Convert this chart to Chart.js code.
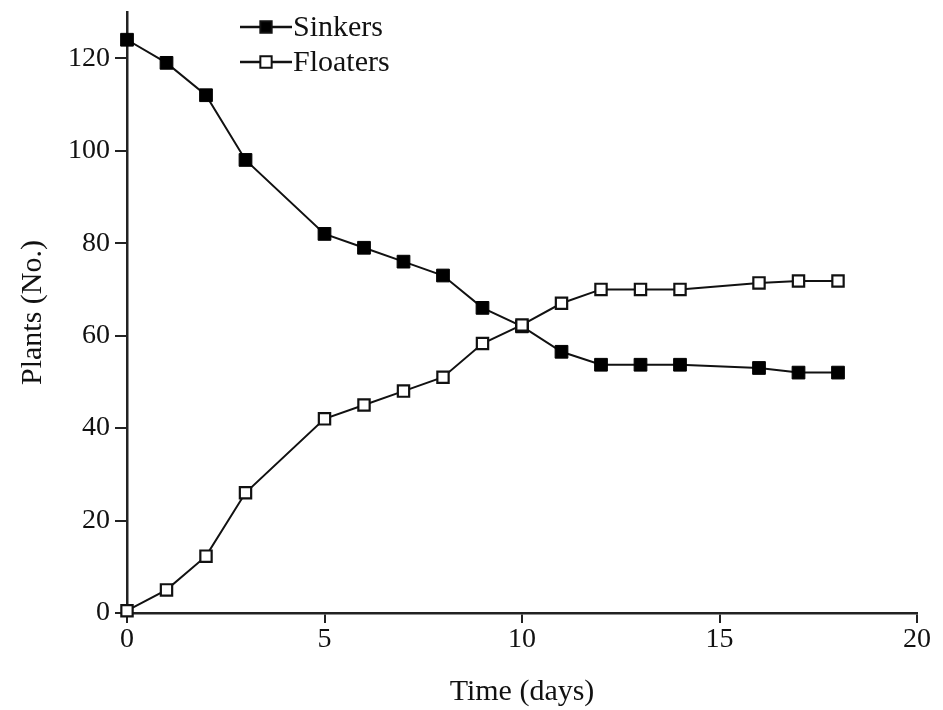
<!DOCTYPE html>
<html>
<head>
<meta charset="utf-8">
<script src="https://cdn.jsdelivr.net/npm/chart.js@4/dist/chart.umd.min.js"></script>
<style>
  html, body { margin: 0; padding: 0; background: #fff; }
  #wrap { width: 943px; height: 710px; }
</style>
</head>
<body>
<div id="wrap"><canvas id="chart"></canvas></div>
<script>
// Data
const days      = [0, 1, 2, 3, 5, 6, 7, 8, 9, 10, 11, 12, 13, 14, 16, 17, 18];
const sinkers   = [124, 119, 112, 98, 82, 79, 76, 73, 66, 62, 56.5, 53.7, 53.7, 53.7, 53, 52, 52];
const floaters  = [0.5, 5, 12.3, 26, 42, 45, 48, 51, 58.3, 62.3, 67, 70, 70, 70, 71.4, 71.8, 71.8];
const xTicks    = [0, 5, 10, 15, 20];
const yTicks    = [0, 20, 40, 60, 80, 100, 120];

const FONT = '"Liberation Serif", "DejaVu Serif", serif';

const toPoints = (xs, ys) => xs.map((x, i) => ({ x: x, y: ys[i] }));

// small custom legend drawn at the top, like the original figure
const legendPlugin = {
    id: 'topLegend',
    afterDraw(chart) {
        const ctx = chart.ctx;
        const rows = [
            { label: 'Sinkers', ds: chart.data.datasets[1], y: 27 },
            { label: 'Floaters', ds: chart.data.datasets[0], y: 62 }
        ];
        ctx.save();
        rows.forEach(r => {
            ctx.strokeStyle = '#111';
            ctx.lineWidth = 2.5;
            ctx.beginPath();
            ctx.moveTo(240, r.y);
            ctx.lineTo(292, r.y);
            ctx.stroke();
            ctx.lineWidth = 2;
            ctx.fillStyle = r.ds.pointBackgroundColor;
            ctx.beginPath();
            const s = 8 * Math.SQRT1_2;
            ctx.rect(266 - s, r.y - s, 2 * s, 2 * s);
            ctx.fill();
            ctx.stroke();
            ctx.fillStyle = '#111';
            ctx.font = '30px ' + FONT;
            ctx.textBaseline = 'middle';
            ctx.fillText(r.label, 293, r.y + 1);
        });
        ctx.restore();
    }
};

const chart = new Chart(document.getElementById('chart'), {
    type: 'line',
    data: {
        datasets: [
            {
                label: 'Floaters',
                data: toPoints(days, floaters),
                borderColor: '#111',
                borderWidth: 2,
                pointStyle: 'rect',
                pointRadius: 8,
                pointBorderWidth: 2.2,
                pointBackgroundColor: '#fff',
                pointBorderColor: '#111',
                order: 0
            },
            {
                label: 'Sinkers',
                data: toPoints(days, sinkers),
                borderColor: '#111',
                borderWidth: 2,
                pointStyle: 'rect',
                pointRadius: 9,
                pointBorderWidth: 1,
                pointBackgroundColor: '#000',
                pointBorderColor: '#000',
                order: 1
            }
        ]
    },
    options: {
        responsive: true,
        maintainAspectRatio: false,
        animation: false,
        clip: false,
        layout: { padding: { top: 12, right: 26, bottom: 0, left: 0 } },
        plugins: {
            legend: { display: false },
            tooltip: { enabled: false }
        },
        scales: {
            x: {
                type: 'linear',
                min: 0,
                max: 20,
                afterBuildTicks: axis => { axis.ticks = xTicks.map(v => ({ value: v })); },
                afterFit: axis => { axis.height = 97; },
                border: { display: true, color: '#222', width: 2.5 },
                grid: { drawOnChartArea: false, drawTicks: true, tickLength: 10, color: '#222', lineWidth: 2 },
                ticks: { color: '#111', font: { family: FONT, size: 28 }, padding: 0, maxRotation: 0 },
                title: {
                    display: true,
                    text: 'Time (days)',
                    color: '#111',
                    font: { family: FONT, size: 30 },
                    padding: { top: 3, bottom: 0 }
                }
            },
            y: {
                min: 0,
                max: 130,
                afterBuildTicks: axis => { axis.ticks = yTicks.map(v => ({ value: v })); },
                afterFit: axis => {
                    axis.width = 127;
                    axis.paddingTop = 0;
                    axis.paddingBottom = 0;
                },
                border: { display: true, color: '#222', width: 2.5 },
                grid: { drawOnChartArea: false, drawTicks: true, tickLength: 12, color: '#222', lineWidth: 2 },
                ticks: { color: '#111', font: { family: FONT, size: 28 }, padding: 5 },
                title: {
                    display: true,
                    text: 'Plants (No.)',
                    color: '#111',
                    font: { family: FONT, size: 30 },
                    padding: { top: 15, bottom: 0 }
                }
            }
        }
    },
    plugins: [legendPlugin]
});
</script>
</body>
</html>
